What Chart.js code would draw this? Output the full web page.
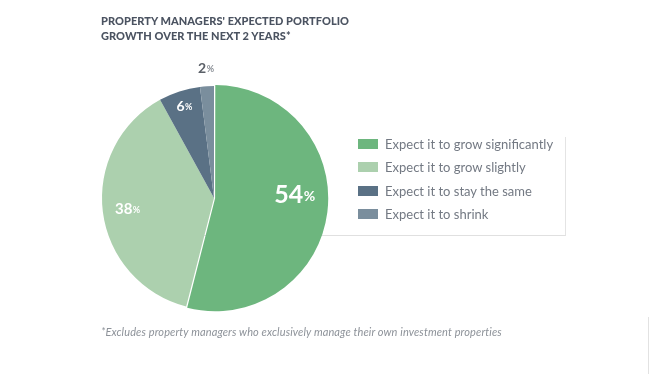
<!DOCTYPE html>
<html>
<head>
<meta charset="utf-8">
<script src="https://cdn.jsdelivr.net/npm/chart.js@4/dist/chart.umd.min.js"></script>
<style>
  html, body { margin:0; padding:0; background:#ffffff; }
  #wrap { position:relative; width:650px; height:374px; overflow:hidden; font-family:"Lato","Open Sans",sans-serif; }
  #panel { position:absolute; left:200px; top:137px; width:365px; height:98px;
           border-right:1px solid #e4e4e4; border-bottom:1px solid #e0e0e0; }
  #edge { position:absolute; left:648px; top:317px; width:1px; height:57px; background:#e2e2e2; }
  canvas { position:absolute; left:0; top:0; }
  #title { position:absolute; left:101px; top:13px; font-weight:900; font-size:11px; line-height:15px;
           color:#4b5361; letter-spacing:0.05px; }
  #note { position:absolute; left:101px; top:325px; font-style:italic; font-size:11px; color:#8d9299; letter-spacing:0.12px; }
  #legend { position:absolute; left:358px; top:132px; }
  .row { height:23.5px; display:flex; align-items:center; }
  .sw { width:20px; height:10px; margin-right:7px; }
  .lt { font-size:13px; color:#737983; }
</style>
</head>
<body>
<div id="wrap">
  <div id="panel"></div>
  <div id="edge"></div>
  <canvas id="c" width="650" height="374"></canvas>
  <div id="title">PROPERTY MANAGERS' EXPECTED PORTFOLIO<br>GROWTH OVER THE NEXT 2 YEARS*</div>
  <div id="legend"></div>
  <div id="note">*Excludes property managers who exclusively manage their own investment properties</div>
</div>
<script>
const categories = ["Expect it to grow significantly", "Expect it to grow slightly", "Expect it to stay the same", "Expect it to shrink"];
const values = [54, 38, 6, 2];
const colors = ["#6db67e", "#acd0ae", "#5a7185", "#7a8e9d"];

// label styling per slice
const labelStyle = [
  {num:25, pct:14, color:"#ffffff", r:0.72, f:0.45},
  {num:15, pct:9, color:"#ffffff", r:0.78, f:0.5},
  {num:14, pct:9, color:"#ffffff", r:0.86, f:0.5},
  {num:14, pct:9, color:"#5b6068", pctColor:"#8a8f96", r:1.16, f:0.5}
];

const legend = document.getElementById('legend');
categories.forEach((c, i) => {
  const row = document.createElement('div');
  row.className = 'row';
  row.innerHTML = '<div class="sw" style="background:' + colors[i] + '"></div><div class="lt">' + c + '</div>';
  legend.appendChild(row);
});

const sliceLabels = {
  id: 'sliceLabels',
  afterDatasetsDraw(chart) {
    const ctx = chart.ctx;
    const meta = chart.getDatasetMeta(0);
    meta.data.forEach((arc, i) => {
      const p = arc.getProps(['x','y','startAngle','endAngle','outerRadius'], true);
      const s = labelStyle[i];
      const a = p.startAngle + (p.endAngle - p.startAngle) * s.f;
      const cx = p.x + Math.cos(a) * p.outerRadius * s.r;
      const cy = p.y + Math.sin(a) * p.outerRadius * s.r;
      const numTxt = String(values[i]);
      ctx.save();
      ctx.font = '700 ' + s.num + 'px Lato, "Open Sans", sans-serif';
      const wn = ctx.measureText(numTxt).width;
      ctx.font = '700 ' + s.pct + 'px Lato, "Open Sans", sans-serif';
      const wp = ctx.measureText('%').width;
      const x0 = cx - (wn + wp) / 2;
      const base = cy + s.num * 0.36;
      ctx.textBaseline = 'alphabetic';
      ctx.textAlign = 'left';
      ctx.fillStyle = s.color;
      ctx.font = '700 ' + s.num + 'px Lato, "Open Sans", sans-serif';
      ctx.fillText(numTxt, x0, base);
      ctx.fillStyle = s.pctColor || s.color;
      ctx.font = '700 ' + s.pct + 'px Lato, "Open Sans", sans-serif';
      ctx.fillText('%', x0 + wn + 0.5, base - s.num * 0.1);
      ctx.restore();
    });
  }
};

new Chart(document.getElementById('c'), {
  type: 'pie',
  data: {
    labels: categories,
    datasets: [{
      data: values,
      backgroundColor: colors,
      borderWidth: 0,
      offset: [4.5, 0, 0, 0],
      radius: 112
    }]
  },
  options: {
    responsive: false,
    animation: false,
    layout: { padding: { left: 89, right: 311, top: 73, bottom: 51 } },
    plugins: { legend: { display: false }, tooltip: { enabled: false }, title: { display: false } }
  },
  plugins: [sliceLabels]
});
</script>
</body>
</html>
